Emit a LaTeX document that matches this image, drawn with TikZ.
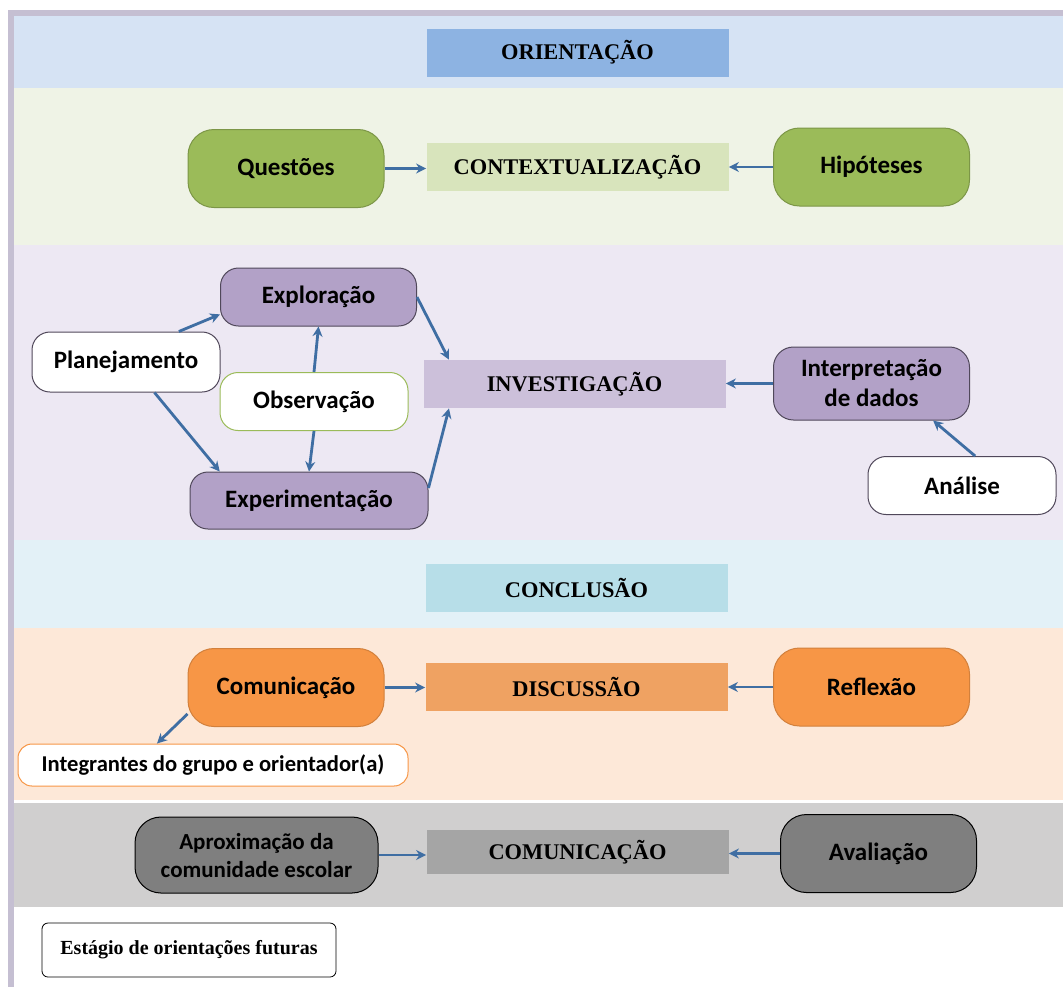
\documentclass[tikz,border=0pt]{standalone}
\usepackage{fontspec}
\setmainfont{Liberation Serif}
\newfontfamily\boxfont{Carlito}
\usetikzlibrary{arrows.meta}

\definecolor{frameline}{HTML}{C5BFD2}
\definecolor{bandori}{HTML}{D6E3F4}
\definecolor{bandctx}{HTML}{EFF3E6}
\definecolor{bandinv}{HTML}{EDE8F3}
\definecolor{bandcon}{HTML}{E3F1F7}
\definecolor{banddis}{HTML}{FDE8D8}
\definecolor{bandcom}{HTML}{D0CFCF}
\definecolor{oriblue}{HTML}{8DB3E2}
\definecolor{ctxgreen}{HTML}{D8E4BC}
\definecolor{invlilac}{HTML}{CCC0DA}
\definecolor{concyan}{HTML}{B7DEE8}
\definecolor{disorange}{HTML}{EFA262}
\definecolor{comgray}{HTML}{A5A5A5}
\definecolor{leafgreen}{HTML}{9BBB59}
\definecolor{leafpurple}{HTML}{B2A1C7}
\definecolor{leaforange}{HTML}{F79646}
\definecolor{leafgray}{HTML}{7F7F7F}
\definecolor{arrowblue}{HTML}{3F6EA3}

\begin{document}
\begin{tikzpicture}[
    x=0.5pt, y=-0.5pt,
    font=\boxfont\bfseries\fontsize{12.5}{14}\selectfont,
    stage/.style={minimum width=151pt, minimum height=24pt, inner sep=0pt,
        font=\rmfamily\bfseries\fontsize{11.2}{13}\selectfont},
    pill/.style={rounded corners=13pt, minimum width=98pt, minimum height=39pt,
        align=center, inner sep=2pt, line width=0.5pt},
    slim/.style={pill, rounded corners=9pt, minimum height=29pt},
    link/.style={-{Stealth[length=5pt, width=5pt]}, line width=1.4pt, draw=arrowblue}
]
\useasboundingbox (0,0) rectangle (1063,987);

% ── Bands ───────────────────────────────────────────────────
\fill[bandori] (14,16)  rectangle (1063,88);
\fill[bandctx] (14,88)  rectangle (1063,245);
\fill[bandinv] (14,245) rectangle (1063,540);
\fill[bandcon] (14,540) rectangle (1063,628);
\fill[banddis] (14,628) rectangle (1063,800);
\fill[bandcom] (14,803) rectangle (1063,907);
\fill[frameline] (8,10) rectangle (1063,16);
\fill[frameline] (8,10) rectangle (14,987);

% ── Stage labels ────────────────────────────────────────────
\node[stage, fill=oriblue]   (ori) at (577.5,52.5) {ORIENTAÇÃO};
\node[stage, fill=ctxgreen]  (ctx) at (577.5,167)  {CONTEXTUALIZAÇÃO};
\node[stage, fill=invlilac]  (inv) at (574.5,384)  {INVESTIGAÇÃO};
\node[stage, fill=concyan]   (con) at (576.5,588)  {CONCLUSÃO};
\node[stage, fill=disorange] (dis) at (576.5,687)  {DISCUSSÃO};
\node[stage, fill=comgray, minimum height=22pt] (com) at (577.5,852) {COMUNICAÇÃO};

% ── Orientation ─────────────────────────────────────────────
\node[pill, fill=leafgreen, draw=leafgreen!80!black] (ques) at (286,168.5) {Questões};
\node[pill, fill=leafgreen, draw=leafgreen!80!black] (hip)  at (871.5,167) {Hipóteses};

% ── Investigation ───────────────────────────────────────────
\node[slim, fill=leafpurple, draw=leafpurple!45!black] (expl) at (318.5,297) {Exploração};
\node[slim, fill=white, draw=leafpurple!45!black, minimum width=94pt, minimum height=30pt]
    (plan) at (126,362) {Planejamento};
\node[slim, fill=white, draw=leafgreen, minimum width=94pt] (obs) at (314,401.5) {Observação};
\node[slim, fill=leafpurple, draw=leafpurple!45!black, minimum width=119pt, minimum height=28.5pt]
    (exper) at (309,500.5) {Experimentação};
\node[pill, fill=leafpurple, draw=leafpurple!45!black, rounded corners=10pt, minimum height=36.5pt,
    font=\boxfont\bfseries\fontsize{12.5}{15}\selectfont]
    (interp) at (871.5,383.5) {Interpretação\\de dados};
\node[slim, fill=white, draw=leafpurple!45!black, minimum width=94pt] (ana) at (962,485.5) {Análise};

% ── Discussion ──────────────────────────────────────────────
\node[pill, fill=leaforange, draw=leaforange!85!black] (comu) at (286,687.5) {Comunicação};
\node[pill, fill=leaforange, draw=leaforange!85!black] (refl) at (871.5,687) {Reflexão};
\node[pill, fill=white, draw=leaforange, rounded corners=7pt, minimum width=195pt, minimum height=21pt,
    font=\boxfont\bfseries\fontsize{11.3}{13}\selectfont]
    (integ) at (213,765) {Integrantes do grupo e orientador(a)};

% ── Communication ───────────────────────────────────────────
\node[pill, fill=leafgray, draw=black, minimum width=121.5pt, minimum height=38pt,
    font=\boxfont\bfseries\fontsize{11.5}{14}\selectfont]
    (aprox) at (256.5,855) {Aproximação da\\comunidade escolar};
\node[pill, fill=leafgray, draw=black] (aval) at (878.5,853.5) {Avaliação};

% ── Legend ──────────────────────────────────────────────────
\node[draw=black, fill=white, rounded corners=3pt, minimum width=147pt, minimum height=27pt,
    font=\rmfamily\bfseries\fontsize{10}{12}\selectfont] (estag) at (189,950) {Estágio de orientações futuras};

% ── Connectors ──────────────────────────────────────────────
\draw[link] (ques.east) -- (ques.east -| ctx.west);
\draw[link] (hip.west)  -- (hip.west -| ctx.east);
\draw[link] (plan.30)   -- (expl.190);
\draw[link] (plan.-47)  -- (exper.162);
\draw[link] (obs.north) -- (expl.south);
\draw[link] (obs.south) -- (exper.north);
\draw[link] (expl.east) -- (inv.169);
\draw[link] (exper.6)   -- (inv.191);
\draw[link] (interp.west) -- (interp.west -| inv.east);
\draw[link] (ana.66)    -- (interp.-31);
\draw[link] (comu.east) -- (comu.east -| dis.west);
\draw[link] (refl.west) -- (refl.west -| dis.east);
\draw[link] (comu.195)  -- (integ.159);
\draw[link] (aprox.east) -- (aprox.east -| com.west);
\draw[link] (aval.west)  -- (aval.west -| com.east);

\end{tikzpicture}
\end{document}
